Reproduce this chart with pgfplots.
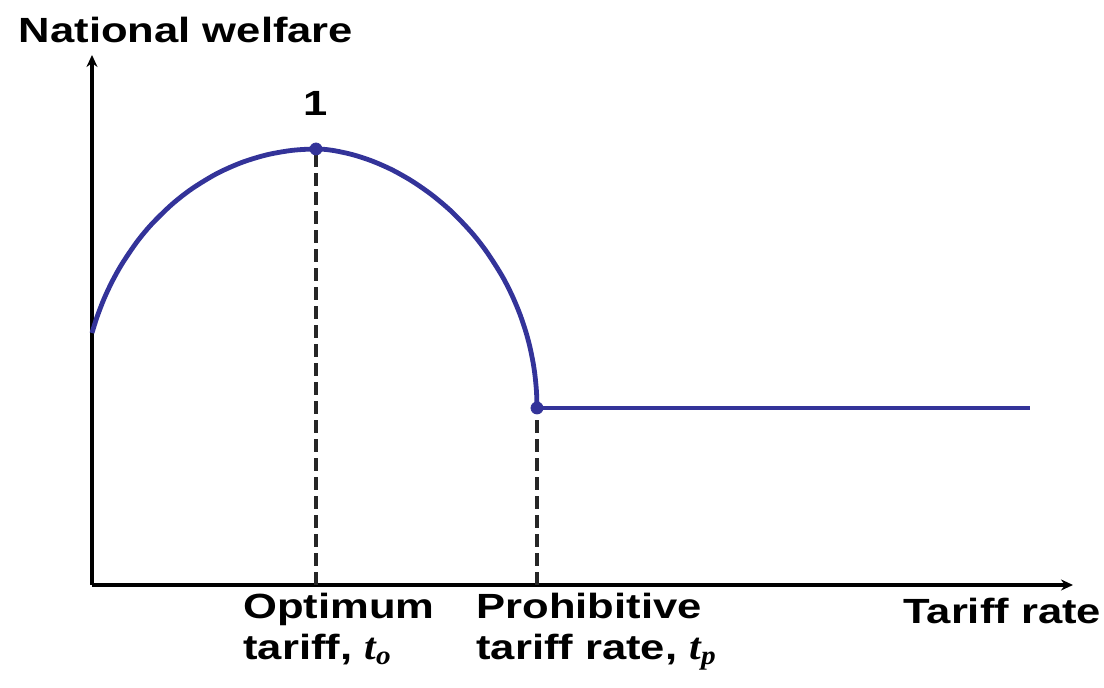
\documentclass[border=0pt]{standalone}
\usepackage{fontspec}
\setmainfont{Liberation Sans}[FakeStretch=1.245]
\newfontfamily\serifit{Liberation Serif}[FakeStretch=1.1]
\usepackage{pgfplots}
\pgfplotsset{compat=1.18}
\usetikzlibrary{arrows.meta}
\definecolor{curve}{RGB}{51,51,153}
\begin{document}
\begin{tikzpicture}
\begin{axis}[
  x=0.5pt, y=0.5pt,
  xmin=0, xmax=981, ymin=0, ymax=530,
  axis lines=left,
  axis line style={line width=1.8pt, -{Stealth[length=6pt,width=5.5pt]}},
  xtick=\empty, ytick=\empty,
  clip=false,
]
\path (axis cs:-92,-103) rectangle (axis cs:1012,585);
% dashed guides
\addplot[black!85, line width=1.6pt, dash pattern=on 6.5pt off 3pt] coordinates {(224,0) (224,436)};
\addplot[black!85, line width=1.6pt, dash pattern=on 6.5pt off 3pt] coordinates {(445,0) (445,177)};
% welfare curve
\addplot[curve, line width=2.4pt, smooth, tension=0.5] coordinates {
  (0,252) (5,267.9) (12,286.1) (20,303.2) (30,321.1) (45,343.2) (60,361.2) (80,380.7)
  (100,396.3) (125,411.5) (150,422.6) (175,430.2) (200,434.6) (224,436)
  (240,434.7) (260,430.5) (280,424.0) (300,415.2) (320,403.9) (340,390.0) (360,373.0)
  (380,352.0) (395,332.7) (410,309.2) (420,289.7) (428,270.6) (434,252.7) (438,237.6)
  (441,222.9) (443,209.5) (444.5,193.3) (445,177)
};
\addplot[curve, line width=2.4pt] coordinates {(445,177) (938,177)};
\addplot[curve, only marks, mark=*, mark size=3pt] coordinates {(224,436) (445,177)};
% labels
\node[font=\fontsize{17.5}{21}\selectfont\bfseries] at (axis cs:94,555) {National welfare};
\node[font=\fontsize{17.5}{21}\selectfont\bfseries] at (axis cs:224,482) {1};
\node[anchor=north west, align=left, inner sep=0pt, font=\fontsize{17.5}{20.5}\selectfont\bfseries] at (axis cs:151,-8) {Optimum\\tariff, {\serifit\itshape\fontsize{19}{20.5}\selectfont t\textsubscript{o}}};
\node[anchor=north west, align=left, inner sep=0pt, font=\fontsize{17.5}{20.5}\selectfont\bfseries] at (axis cs:384,-8) {Prohibitive\\tariff rate, {\serifit\itshape\fontsize{19}{20.5}\selectfont t\textsubscript{p}}};
\node[anchor=north west, inner sep=0pt, font=\fontsize{17.5}{21}\selectfont\bfseries] at (axis cs:811,-13) {Tariff rate};
\end{axis}
\end{tikzpicture}
\end{document}
